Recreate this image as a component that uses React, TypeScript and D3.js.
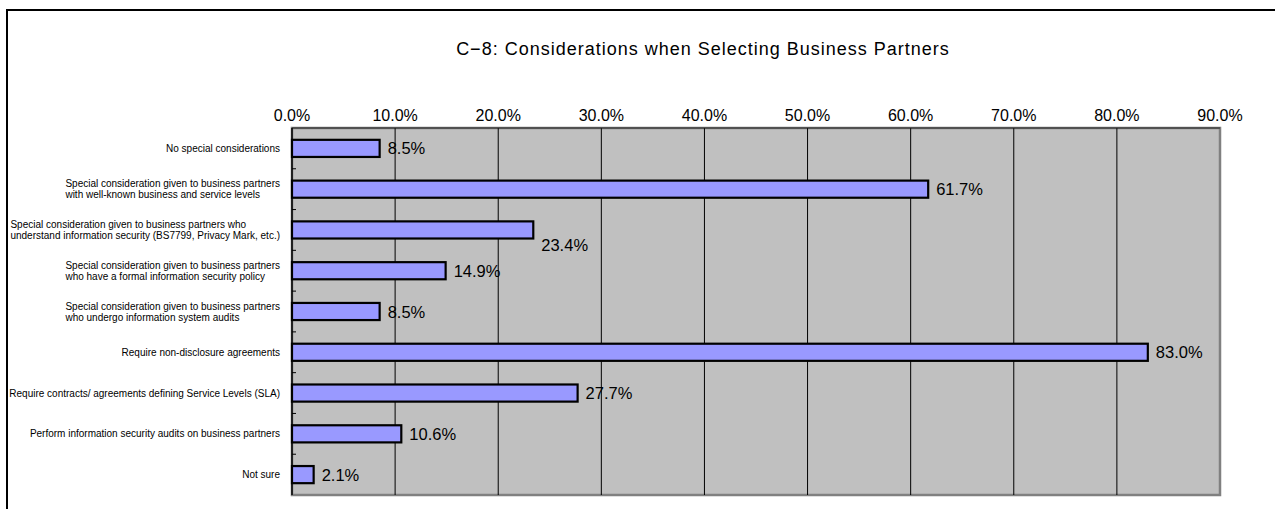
import React, { useEffect, useRef } from "react";
import * as d3 from "d3";

const title = "C\u22128: Considerations when Selecting Business Partners";
const categories: string[][] = [
  ["No special considerations"],
  ["Special consideration given to business partners", "with well-known business and service levels"],
  ["Special consideration given to business partners who", "understand information security (BS7799, Privacy Mark, etc.)"],
  ["Special consideration given to business partners", "who have a formal information security policy"],
  ["Special consideration given to business partners", "who undergo information system audits"],
  ["Require non-disclosure agreements"],
  ["Require contracts/ agreements defining Service Levels (SLA)"],
  ["Perform information security audits on business partners"],
  ["Not sure"],
];
const values = [8.5, 61.7, 23.4, 14.9, 8.5, 83.0, 27.7, 10.6, 2.1];
const xTicks = [0, 10, 20, 30, 40, 50, 60, 70, 80, 90];

export default function App() {
  const ref = useRef<SVGSVGElement>(null);
  useEffect(() => {
    const svg = d3.select(ref.current);
    svg.selectAll("*").remove();
    const left = 292, right = 1220, top = 128, bottom = 495;
    const font = "'Liberation Sans', Arial, sans-serif";

    // outer chart border
    svg.append("rect").attr("x", 7).attr("y", 10).attr("width", 1400).attr("height", 700)
      .attr("fill", "white").attr("stroke", "black").attr("stroke-width", 2);

    svg.append("text").attr("x", 703).attr("y", 55).attr("text-anchor", "middle")
      .attr("font-family", font).attr("font-size", 18).attr("letter-spacing", 1)
      .attr("fill", "black").text(title);

    const x = d3.scaleLinear().domain([0, 90]).range([left, right]);
    const y = d3.scaleBand<number>().domain(d3.range(values.length)).range([top, bottom]).paddingInner(0.58).paddingOuter(0.29);
    const step = y.step();

    // plot area
    svg.append("rect").attr("x", left).attr("y", top).attr("width", right - left).attr("height", bottom - top)
      .attr("fill", "#c0c0c0").attr("stroke", "#808080").attr("stroke-width", 2.5);

    // gridlines
    svg.append("g").selectAll("line").data(xTicks.slice(1, -1)).join("line")
      .attr("x1", (d) => x(d)).attr("x2", (d) => x(d)).attr("y1", top).attr("y2", bottom)
      .attr("stroke", "#000").attr("stroke-width", 1);

    // top axis line and left axis line
    svg.append("line").attr("x1", left).attr("x2", right).attr("y1", top).attr("y2", top).attr("stroke", "#222").attr("stroke-width", 1.2);
    svg.append("line").attr("x1", left).attr("x2", left).attr("y1", top).attr("y2", bottom).attr("stroke", "#000").attr("stroke-width", 1.5);

    // category ticks at band boundaries
    svg.append("g").selectAll("line").data(d3.range(1, values.length)).join("line")
      .attr("x1", left).attr("x2", left + 4)
      .attr("y1", (i) => top + i * step).attr("y2", (i) => top + i * step)
      .attr("stroke", "#000").attr("stroke-width", 1);

    // x tick labels
    svg.append("g").selectAll("text").data(xTicks).join("text")
      .attr("x", (d) => x(d)).attr("y", 121).attr("text-anchor", "middle")
      .attr("font-family", font).attr("font-size", 16).attr("fill", "black")
      .text((d) => d.toFixed(1) + "%");

    // bars
    svg.append("g").selectAll("rect").data(values).join("rect")
      .attr("x", left).attr("y", (_, i) => y(i)!).attr("width", (d) => x(d) - left).attr("height", y.bandwidth())
      .attr("fill", "#9999ff").attr("stroke", "#000").attr("stroke-width", 2.2);

    // value labels
    const labelDy: Record<number, number> = { 2: 15 };
    svg.append("g").selectAll("text").data(values).join("text")
      .attr("x", (d) => x(d) + 8).attr("y", (_, i) => y(i)! + y.bandwidth() / 2 + 6 + (labelDy[i] || 0))
      .attr("font-family", font).attr("font-size", 16.5).attr("fill", "black")
      .text((d) => d.toFixed(1) + "%");

    // category labels: block right-aligned, lines left-aligned within block
    const labelRight = 280;
    categories.forEach((lines, i) => {
      const cy = y(i)! + y.bandwidth() / 2;
      const g = svg.append("g");
      const lh = 11;
      const texts = lines.map((ln, j) =>
        g.append("text").attr("y", cy + 3.5 + (j - (lines.length - 1) / 2) * lh)
          .attr("font-family", font).attr("font-size", 10).attr("fill", "black").text(ln)
      );
      const maxW = d3.max(texts, (t) => (t.node() as SVGTextElement).getComputedTextLength()) || 0;
      texts.forEach((t) => t.attr("x", labelRight - maxW));
    });
  }, []);
  return (
    <svg ref={ref} width={1275} height={509} style={{ position: "absolute", left: 0, top: 0 }} />
  );
}
